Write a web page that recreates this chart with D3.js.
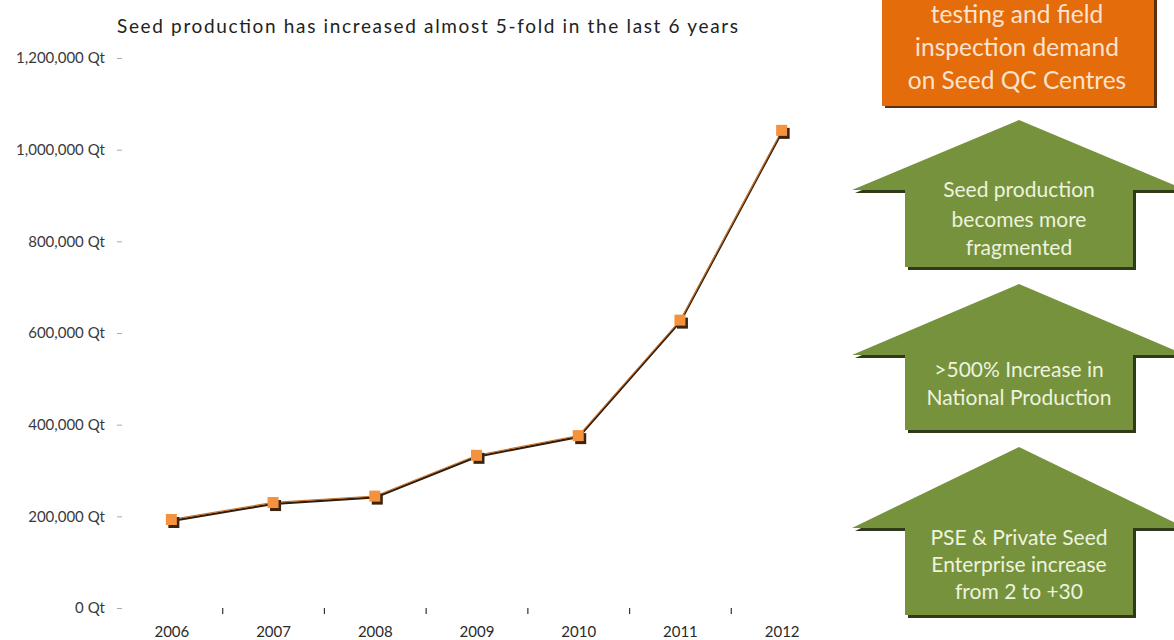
<!DOCTYPE html>
<html><head><meta charset="utf-8">
<script src="https://cdn.jsdelivr.net/npm/d3@7/dist/d3.min.js"></script>
<style>
html,body{margin:0;padding:0;background:#fff;}
svg{display:block;}
</style></head>
<body>
<svg id="chart" width="1174" height="640"></svg>
<script>
// ---- data ----
const years = ["2006","2007","2008","2009","2010","2011","2012"];
const production = [192000, 229000, 243000, 332000, 375000, 627000, 1041000];
const yTicks = [0, 200000, 400000, 600000, 800000, 1000000, 1200000];
const title = "Seed production has increased almost 5-fold in the last 6 years";
const orangeLines = ["testing and field", "inspection demand", "on Seed QC Centres"];
const arrowTexts = [
  ["Seed production", "becomes more", "fragmented"],
  [">500% Increase  in", "National Production"],
  ["PSE & Private Seed", "Enterprise increase", "from 2 to +30"]
];

const svg = d3.select("#chart");
const FONT = "Lato, 'Open Sans', sans-serif";

const x = d3.scaleBand().domain(years).range([121, 833]).paddingInner(0).paddingOuter(0);
const y = d3.scaleLinear().domain([0, 1200000]).range([608, 58]);
const cx = d => x(d) + x.bandwidth() / 2;

// title
svg.append("text")
  .attr("x", 117).attr("y", 33)
  .attr("font-family", FONT)
  .attr("font-size", 19)
  .attr("fill", "#222")
  .attr("textLength", 621).attr("lengthAdjust", "spacing")
  .text(title);

// y axis
const yAxis = d3.axisLeft(y)
  .tickValues(yTicks)
  .tickSize(5)
  .tickPadding(12)
  .tickFormat(d => d3.format(",")(d) + " Qt");
const gy = svg.append("g").attr("transform", "translate(122,0)").call(yAxis);
gy.select(".domain").remove();
gy.selectAll(".tick line").attr("stroke", "#aaa");
gy.selectAll(".tick text")
  .attr("font-family", FONT)
  .attr("font-size", 15)
  .attr("fill", "#3a3a3a");

// x axis: labels at category centers, ticks at inner category boundaries
const gx = svg.append("g");
gx.selectAll("text").data(years).enter().append("text")
  .attr("x", d => cx(d)).attr("y", 637)
  .attr("text-anchor", "middle")
  .attr("font-family", FONT)
  .attr("font-size", 15)
  .attr("fill", "#2a2a2a")
  .text(d => d);
gx.selectAll("line").data(years.slice(1)).enter().append("line")
  .attr("x1", d => x(d)).attr("x2", d => x(d))
  .attr("y1", 608).attr("y2", 614)
  .attr("stroke", "#333").attr("stroke-width", 1.2);

// line
const pts = years.map((yr, i) => [cx(yr), y(production[i])]);
const lineGen = d3.line();
svg.append("path").attr("d", lineGen(pts.map(p => [p[0], p[1] + 0.8])))
  .attr("fill", "none").attr("stroke", "#2e1c0c").attr("stroke-width", 2.2);
svg.append("path").attr("d", lineGen(pts.map(p => [p[0], p[1] - 0.6])))
  .attr("fill", "none").attr("stroke", "#c8742e").attr("stroke-width", 1.2);

// markers
const mk = svg.append("g");
mk.selectAll("rect.sh").data(pts).enter().append("rect")
  .attr("x", d => d[0] - 5 + 1.5).attr("y", d => d[1] - 5 + 2)
  .attr("width", 11).attr("height", 11).attr("fill", "#3b2410");
mk.selectAll("rect.mk").data(pts).enter().append("rect")
  .attr("x", d => d[0] - 6).attr("y", d => d[1] - 6)
  .attr("width", 11).attr("height", 11).attr("fill", "#f5923e");

// ---- right side diagram ----
const orange = "#e46c0a", green = "#76923c";
svg.append("rect").attr("x", 885).attr("y", -10).attr("width", 272).attr("height", 118).attr("fill", "#5a3010");
svg.append("rect").attr("x", 882).attr("y", -10).attr("width", 272).attr("height", 116).attr("fill", orange);
svg.append("g").selectAll("text").data(orangeLines).enter().append("text")
  .attr("x", 1017).attr("y", (d, i) => 23 + i * 33)
  .attr("text-anchor", "middle")
  .attr("font-family", FONT)
  .attr("font-size", 24.5)
  .attr("fill", "#fbe3cf")
  .text(d => d);

const arrows = [
  {tip: 120, wing: 190, bottom: 267, textY: [197, 227, 255]},
  {tip: 284, wing: 355, bottom: 430, textY: [377, 405]},
  {tip: 447, wing: 528, bottom: 615, textY: [545, 572, 599]}
];
const acx = 1019, wingHalf = 167, bodyL = 905, bodyR = 1133;
arrows.forEach((a, k) => {
  const shape = [
    [acx, a.tip], [acx + wingHalf, a.wing], [bodyR, a.wing], [bodyR, a.bottom],
    [bodyL, a.bottom], [bodyL, a.wing], [acx - wingHalf, a.wing]
  ];
  svg.append("path")
    .attr("d", "M" + shape.map(p => [p[0] + 3, p[1] + 3]).join("L") + "Z")
    .attr("fill", "#2f3a18");
  svg.append("path")
    .attr("d", "M" + shape.join("L") + "Z")
    .attr("fill", green);
  svg.append("g").selectAll("text").data(arrowTexts[k]).enter().append("text")
    .attr("x", acx).attr("y", (d, i) => a.textY[i])
    .attr("text-anchor", "middle")
    .attr("font-family", FONT)
    .attr("font-size", 21)
    .attr("fill", "#eef3df")
    .text(d => d);
});
</script>
</body></html>
